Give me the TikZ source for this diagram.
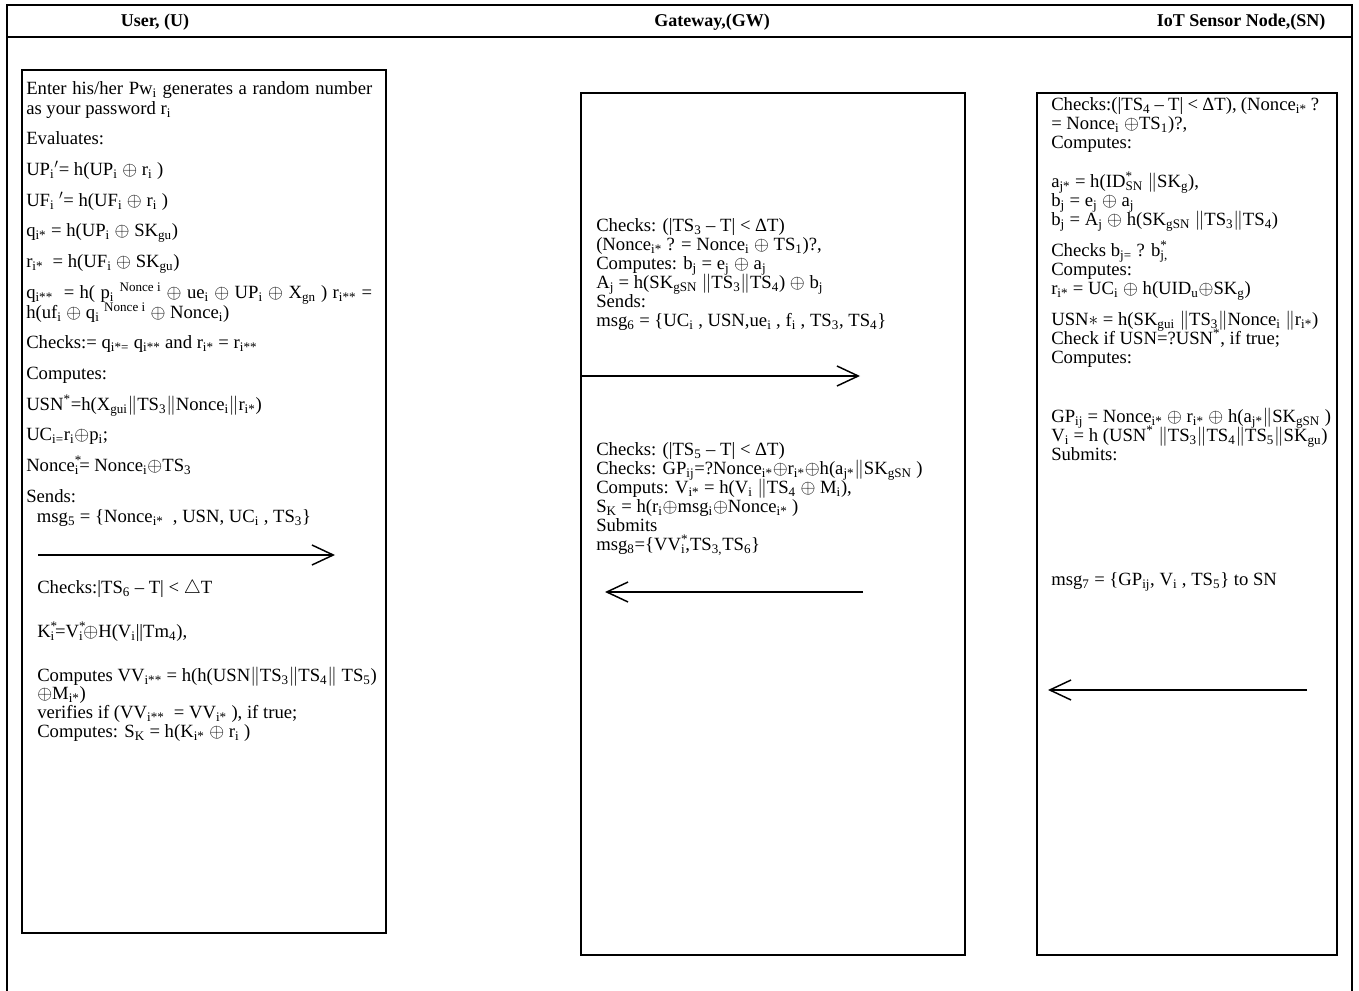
\documentclass[tikz,border=0pt]{standalone}
\usepackage{fontspec}
\setmainfont{Liberation Serif}
\usetikzlibrary{arrows.meta}
\newcommand{\ssb}[1]{\textsubscript{#1}}
\newcommand{\ssp}[1]{\textsuperscript{#1}}
\newcommand{\ssbp}[2]{\rlap{\textsuperscript{#2}}\textsubscript{#1}}
\newcommand{\xor}{\ensuremath{\oplus}}
\newcommand{\cat}{\ensuremath{\|}}
\newcommand{\jline}[2]{\makebox[#1][s]{#2}}
\newcommand{\tightlines}{\lineskiplimit=-20pt\relax}
\newcommand{\topstrut}{\rule{0pt}{12pt}}

\begin{document}
\begin{tikzpicture}[x=0.75pt, y=-0.75pt,
  frame/.style={line width=1.5pt},
  box/.style={line width=1.2pt},
  msg/.style={line width=1.1pt, -{Straight Barb[length=16pt, width=15pt, line width=1.1pt]}},
  head/.style={anchor=base, inner sep=0pt, font=\fontsize{13.5}{16}\selectfont\bfseries},
  txt/.style={anchor=north west, align=left, inner sep=0pt, font=\fontsize{14}{14.25}\selectfont\tightlines}
]
\useasboundingbox (0,0) rectangle (1359,991);

% frame and header
\draw[frame] (7,991) -- (7,5) -- (1352,5) -- (1352,991);
\draw[frame] (7,37) -- (1352,37);
\node[head] (hU)  at (155,27)  {User, (U)};
\node[head] (hGW) at (712,27)  {Gateway,(GW)};
\node[head] (hSN) at (1241,27) {IoT Sensor Node,(SN)};

% lanes
\draw[box] (22,70)   rectangle (386,933);
\draw[box] (581,93)  rectangle (965,955);
\draw[box] (1037,93) rectangle (1337,955);

% user
\node[txt, font=\fontsize{14}{15}\selectfont\tightlines] (u1) at (26,78) {%
\topstrut\jline{259.5pt}{Enter his/her Pw\ssb{i} generates a random number}\\
as your password r\ssb{i}\\[8pt]
Evaluates:\\[8pt]
UP\ssb{i}$'$= h(UP\ssb{i} \xor{} r\ssb{i} )\\[8pt]
UF\ssb{i} $'$= h(UF\ssb{i} \xor{} r\ssb{i} )\\[8pt]
q\ssb{i*} = h(UP\ssb{i} \xor{} SK\ssb{gu})\\[8pt]
r\ssb{i*}~ = h(UF\ssb{i} \xor{} SK\ssb{gu})\\[8pt]
\jline{259.5pt}{q\ssb{i**}~ = h( p\ssb{i}~\ssp{Nonce i} \xor{} ue\ssb{i} \xor{} UP\ssb{i} \xor{} X\ssb{gn} ) r\ssb{i**} =}\\
h(uf\ssb{i} \xor{} q\ssb{i}~\ssp{Nonce i} \xor{} Nonce\ssb{i})\\[8pt]
Checks:= q\ssb{i*=} q\ssb{i**} and r\ssb{i*} = r\ssb{i**}\\[8pt]
Computes:\\[8pt]
USN\ssp{*}=h(X\ssb{gui}\cat TS\ssb{3}\cat Nonce\ssb{i}\cat r\ssb{i*})\\[8pt]
UC\ssb{i=}r\ssb{i}\xor p\ssb{i};\\[8pt]
Nonce\ssbp{i}{*}= Nonce\ssb{i}\xor TS\ssb{3}\\[8pt]
Sends:\\
\hspace*{8pt}msg\ssb{5} = \{Nonce\ssb{i*}~ , USN, UC\ssb{i} , TS\ssb{3}\}};
\coordinate (m5s) at (38,555);
\coordinate (m5e) at (335,555);
\draw[msg] (m5s) -- (m5e);
\node[txt, font=\fontsize{14}{14}\selectfont\tightlines] (u2) at (37,577) {%
\topstrut Checks:|TS\ssb{6} -- T| < $\triangle$T\\[19pt]
K\ssbp{i}{*}=V\ssbp{i}{*}\xor H(V\ssb{i}||Tm\ssb{4}),\\[19pt]
Computes VV\ssb{i**} = h(h(USN\cat TS\ssb{3}\cat TS\ssb{4}\cat{} TS\ssb{5})\\
\xor M\ssb{i*})\\
verifies if (VV\ssb{i**}~ = VV\ssb{i*} ), if true;\\
Computes: S\ssb{K} = h(K\ssb{i*} \xor{} r\ssb{i} )};

% gateway
\node[txt] (g1) at (596,215) {%
\topstrut Checks: (|TS\ssb{3} -- T| < ΔT)\\
(Nonce\ssb{i*} ? = Nonce\ssb{i} \xor{} TS\ssb{1})?,\\
Computes: b\ssb{j} = e\ssb{j} \xor{} a\ssb{j}\\
A\ssb{j} = h(SK\ssb{gSN} \cat TS\ssb{3}\cat TS\ssb{4}) \xor{} b\ssb{j}\\
Sends:\\
msg\ssb{6} = \{UC\ssb{i} , USN,ue\ssb{i} , f\ssb{i} , TS\ssb{3}, TS\ssb{4}\}};
\coordinate (m6s) at (581,376);
\coordinate (m6e) at (860,376);
\draw[msg] (m6s) -- (m6e);
\node[txt] (g2) at (596,439) {%
\topstrut Checks: (|TS\ssb{5} -- T| < ΔT)\\
Checks: GP\ssb{ij}=?Nonce\ssb{i*}\xor r\ssb{i*}\xor h(a\ssb{j*}\cat SK\ssb{gSN} )\\
Computs: V\ssb{i*} = h(V\ssb{i} \cat TS\ssb{4} \xor{} M\ssb{i}),\\
S\ssb{K} = h(r\ssb{i}\xor msg\ssb{i}\xor Nonce\ssb{i*} )\\
Submits\\
msg\ssb{8}=\{VV\ssbp{i}{*},TS\ssb{3,}TS\ssb{6}\}};
\coordinate (m8s) at (863,592);
\coordinate (m8e) at (605,592);
\draw[msg] (m8s) -- (m8e);

% sensor node
\node[txt] (s1) at (1051,94) {%
\topstrut\jline{201pt}{Checks:(|TS\ssb{4} -- T| < ΔT), (Nonce\ssb{i*} ?}\\
= Nonce\ssb{i} \xor TS\ssb{1})?,\\
Computes:};
\node[txt] (s2) at (1051,171) {%
\topstrut a\ssb{j*} = h(ID\ssbp{SN}{*} \cat SK\ssb{g}),\\
b\ssb{j} = e\ssb{j} \xor{} a\ssb{j}\\
b\ssb{j} = A\ssb{j} \xor{} h(SK\ssb{gSN} \cat TS\ssb{3}\cat TS\ssb{4})};
\node[txt] (s3) at (1051,240) {%
\topstrut Checks b\ssb{j=} ? b\ssbp{j,}{*}\\
Computes:\\
r\ssb{i*} = UC\ssb{i} \xor{} h(UID\ssb{u}\xor SK\ssb{g})};
\node[txt] (s4) at (1051,309) {%
\topstrut USN$\ast$ = h(SK\ssb{gui} \cat TS\ssb{3}\cat Nonce\ssb{i} \cat r\ssb{i*})\\
Check if USN=?USN\ssp{*}, if true;\\
Computes:};
\node[txt] (s5) at (1051,406) {%
\topstrut GP\ssb{ij} = Nonce\ssb{i*} \xor{} r\ssb{i*} \xor{} h(a\ssb{j*}\cat SK\ssb{gSN} )\\
V\ssb{i} = h (USN\ssp{*} \cat TS\ssb{3}\cat TS\ssb{4}\cat TS\ssb{5}\cat SK\ssb{gu})\\
Submits:};
\node[txt] (s6) at (1051,569) {\topstrut msg\ssb{7} = \{GP\ssb{ij}, V\ssb{i} , TS\ssb{5}\} to SN};
\coordinate (m7s) at (1307,690);
\coordinate (m7e) at (1048,690);
\draw[msg] (m7s) -- (m7e);
\end{tikzpicture}
\end{document}
